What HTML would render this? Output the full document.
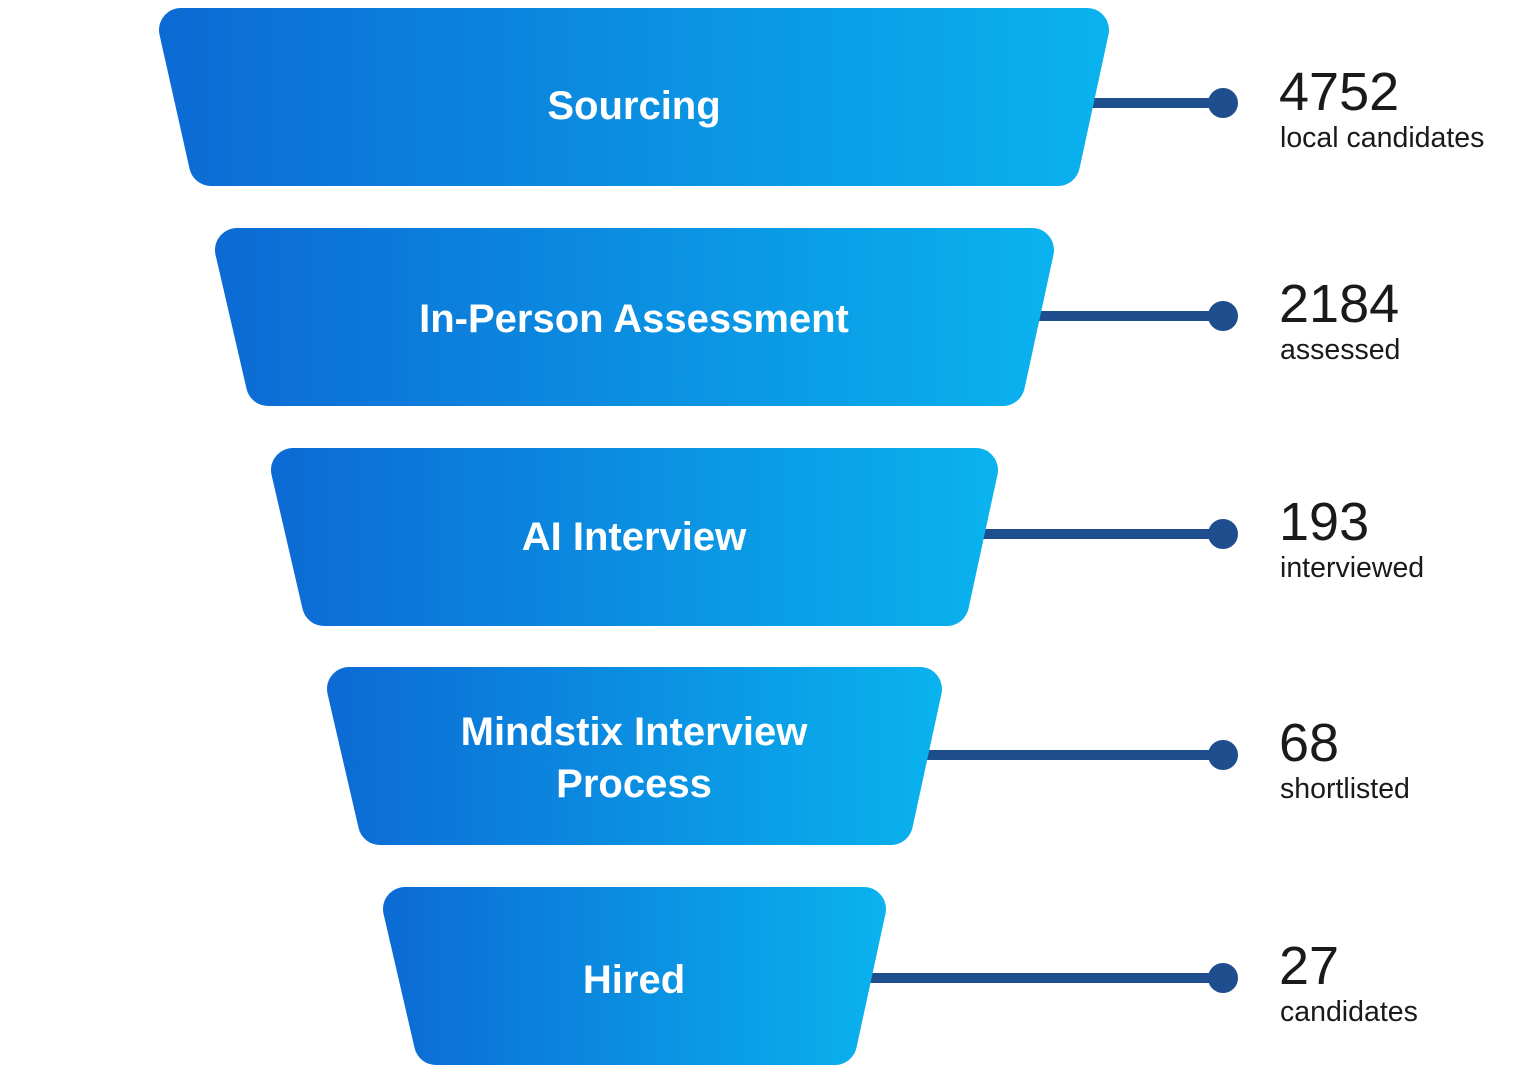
<!DOCTYPE html>
<html><head><meta charset="utf-8"><style>
html,body{margin:0;padding:0;background:#fff;}
svg{display:block;}
text{font-family:"Liberation Sans",sans-serif;}
</style></head><body>
<svg width="1520" height="1074" viewBox="0 0 1520 1074" xmlns="http://www.w3.org/2000/svg">
<defs>
<linearGradient id="g1" gradientUnits="userSpaceOnUse" x1="158" y1="0" x2="1110" y2="0"><stop offset="0" stop-color="#0c6ad4"/><stop offset="1" stop-color="#0ab3ee"/></linearGradient>
<linearGradient id="g2" gradientUnits="userSpaceOnUse" x1="214" y1="0" x2="1055" y2="0"><stop offset="0" stop-color="#0c6ad4"/><stop offset="1" stop-color="#0ab3ee"/></linearGradient>
<linearGradient id="g3" gradientUnits="userSpaceOnUse" x1="270" y1="0" x2="999" y2="0"><stop offset="0" stop-color="#0c6ad4"/><stop offset="1" stop-color="#0ab3ee"/></linearGradient>
<linearGradient id="g4" gradientUnits="userSpaceOnUse" x1="326" y1="0" x2="943" y2="0"><stop offset="0" stop-color="#0c6ad4"/><stop offset="1" stop-color="#0ab3ee"/></linearGradient>
<linearGradient id="g5" gradientUnits="userSpaceOnUse" x1="382" y1="0" x2="887" y2="0"><stop offset="0" stop-color="#0c6ad4"/><stop offset="1" stop-color="#0ab3ee"/></linearGradient>
</defs>
<g stroke-linejoin="round" stroke-width="44">
<g stroke="#1f4e8f" stroke-width="10" fill="#1f4e8f">
<line x1="1080" y1="103" x2="1223" y2="103"/><circle cx="1223" cy="103" r="11" stroke-width="8"/>
<line x1="1030" y1="316" x2="1223" y2="316"/><circle cx="1223" cy="316" r="11" stroke-width="8"/>
<line x1="970" y1="534" x2="1223" y2="534"/><circle cx="1223" cy="534" r="11" stroke-width="8"/>
<line x1="910" y1="755" x2="1223" y2="755"/><circle cx="1223" cy="755" r="11" stroke-width="8"/>
<line x1="860" y1="978" x2="1223" y2="978"/><circle cx="1223" cy="978" r="11" stroke-width="8"/>
</g>
<polygon points="181,30 1087,30 1058,164 211,164" fill="url(#g1)" stroke="url(#g1)"/>
<polygon points="237,250 1032,250 1003,384 268,384" fill="url(#g2)" stroke="url(#g2)"/>
<polygon points="293,470 976,470 947,604 324,604" fill="url(#g3)" stroke="url(#g3)"/>
<polygon points="349,689 920,689 891,823 380,823" fill="url(#g4)" stroke="url(#g4)"/>
<polygon points="405,909 864,909 835,1043 436,1043" fill="url(#g5)" stroke="url(#g5)"/>
</g>
<g fill="#fff" font-size="40" font-weight="bold" text-anchor="middle">
<text x="634" y="119">Sourcing</text>
<text x="634" y="332">In-Person Assessment</text>
<text x="634" y="550">AI Interview</text>
<text x="634" y="745">Mindstix Interview</text>
<text x="634" y="797">Process</text>
<text x="634" y="993">Hired</text>
</g>
<g fill="#1a1a1a">
<text x="1279" y="110" font-size="54">4752</text><text x="1280" y="147" font-size="28.5">local candidates</text>
<text x="1279" y="322" font-size="54">2184</text><text x="1280" y="359" font-size="28.5">assessed</text>
<text x="1279" y="540" font-size="54">193</text><text x="1280" y="577" font-size="28.5">interviewed</text>
<text x="1279" y="761" font-size="54">68</text><text x="1280" y="798" font-size="28.5">shortlisted</text>
<text x="1279" y="984" font-size="54">27</text><text x="1280" y="1021" font-size="28.5">candidates</text>
</g>
</svg>
</body></html>
